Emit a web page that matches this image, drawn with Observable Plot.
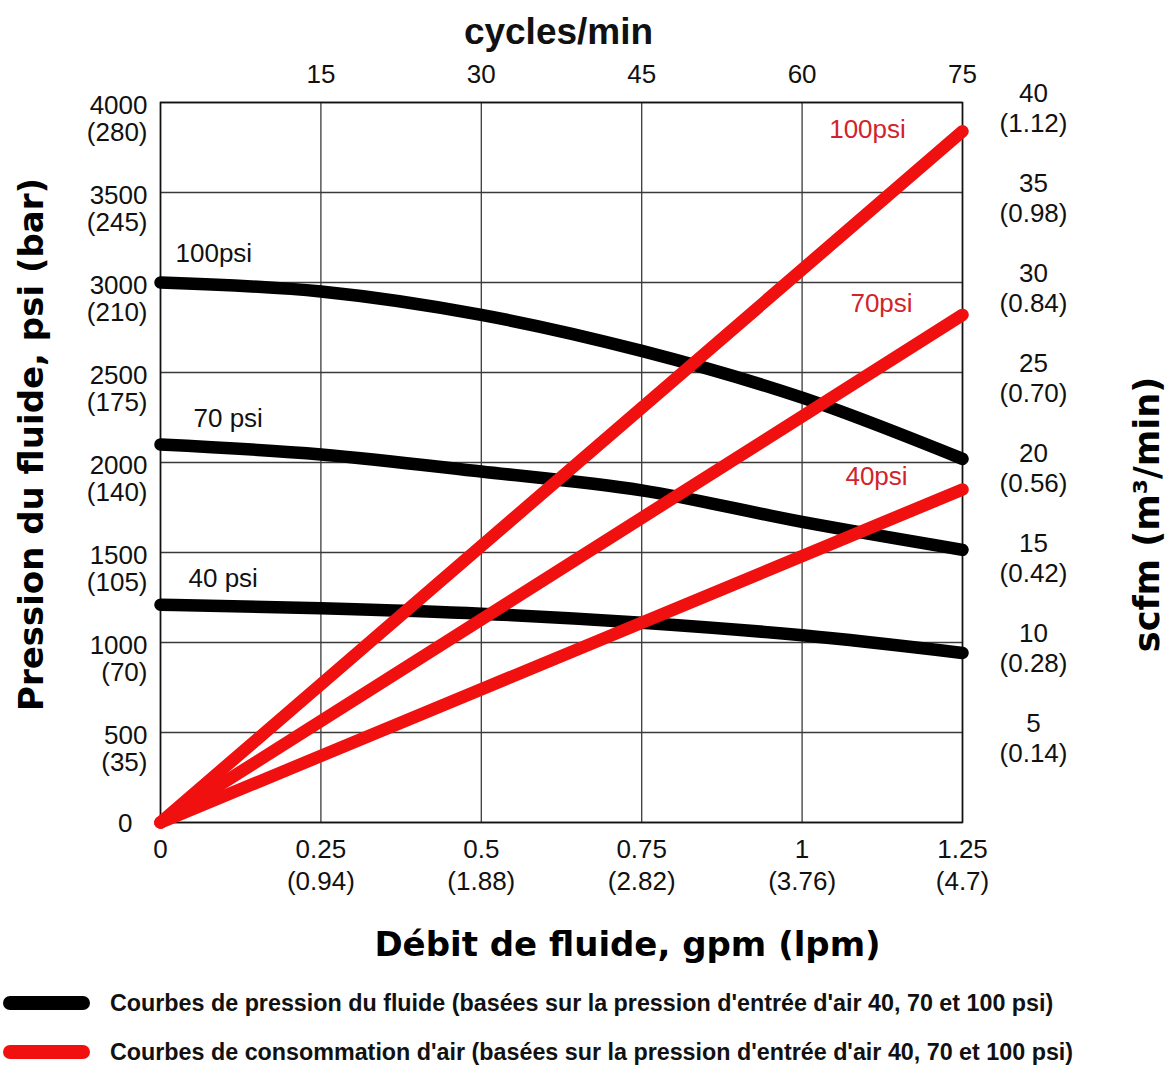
<!DOCTYPE html>
<html>
<head>
<meta charset="utf-8">
<script src="https://cdn.jsdelivr.net/npm/d3@7"></script>
<script src="https://cdn.jsdelivr.net/npm/@observablehq/plot@0.6"></script>
<style>
html, body { margin: 0; padding: 0; background: #fff; overflow: hidden; }
#wrap { position: relative; width: 1166px; height: 1068px; }
.leg { position: absolute; left: 0; height: 30px; display: flex; align-items: center;
  font-family: "Liberation Sans", Arial, sans-serif; font-weight: bold; font-size: 23.3px;
  color: #111; white-space: nowrap; }
.sw { display: inline-block; width: 87px; height: 14px; border-radius: 7px; margin-left: 3px; margin-right: 20px; }
</style>
</head>
<body>
<div id="wrap"><div id="chart"></div></div>
<script>
// ---- data ----
const gpm = [0, 0.25, 0.5, 0.75, 1, 1.25];
const lpmLabels = ["", "(0.94)", "(1.88)", "(2.82)", "(3.76)", "(4.7)"];
const cycleTicks = [15, 30, 45, 60, 75];
const psiTicks = [0, 500, 1000, 1500, 2000, 2500, 3000, 3500, 4000];
const barLabels = ["", "(35)", "(70)", "(105)", "(140)", "(175)", "(210)", "(245)", "(280)"];
const scfmTicks = [5, 10, 15, 20, 25, 30, 35, 40];
const m3Labels = ["(0.14)", "(0.28)", "(0.42)", "(0.56)", "(0.70)", "(0.84)", "(0.98)", "(1.12)"];

// fluid pressure curves (psi) at gpm values
const fluid100 = [3000, 2950, 2820, 2620, 2360, 2020];
const fluid70 = [2100, 2045, 1950, 1845, 1670, 1515];
const fluid40 = [1210, 1190, 1160, 1110, 1040, 942];

// air consumption (scfm)
const airGpm = [0, 1.25];
const air100 = [0, 38.4];
const air70 = [0, 28.2];
const air40 = [0, 18.5];

const fluidNames = ["100psi", "70 psi", "40 psi"];
const airNames = ["100psi", "70psi", "40psi"];
const legendLabels = [
  "Courbes de pression du fluide (basées sur la pression d'entrée d'air 40, 70 et 100 psi)",
  "Courbes de consommation d'air (basées sur la pression d'entrée d'air 40, 70 et 100 psi)"
];

// ---- derived ----
const SCFM_TO_PSI = 4000 / 40;       // right axis shares the same pixel range
const CYCLES_TO_GPM = 1.25 / 75;     // top axis: 75 cycles/min at 1.25 gpm

const fluidSeries = [fluid100, fluid70, fluid40];
const airSeries = [air100, air70, air40];
const fluidRows = fluidSeries.flatMap((s, k) => s.map((p, i) => ({gpm: gpm[i], psi: p, s: k})));
const airRows = airSeries.flatMap((s, k) => s.map((v, i) => ({gpm: airGpm[i], psi: v * SCFM_TO_PSI, s: k})));

const leftTicks = psiTicks.map((v, i) => ({v, label: barLabels[i] ? `${v}\n${barLabels[i]}` : `${v}`}));
const bottomTicks = gpm.map((v, i) => ({v, label: lpmLabels[i] ? `${v}\n${lpmLabels[i]}` : `${v}`}));
const rightTicks = scfmTicks.map((v, i) => ({v: v * SCFM_TO_PSI, label: `${v}\n${m3Labels[i]}`}));
const topTicks = cycleTicks.map(c => ({v: c * CYCLES_TO_GPM, label: `${c}`}));

const SANS = "Liberation Sans, Arial, Helvetica, sans-serif";
const BOLD = "DejaVu Sans, Verdana, sans-serif";
const TICK = 26;
const RED = "#f01010";
const RED_TXT = "#d2232a";

const fluidLabelOffsets = [[15, -29], [33, -26], [28, -26]];
const airLabelOffsets = [[-95, -2], [-81, -11], [-86, -13]];

const fluidLabelMarks = fluidSeries.map((s, k) => Plot.text([{gpm: gpm[0], psi: s[0]}], {
  x: "gpm", y: "psi", text: () => fluidNames[k], textAnchor: "start",
  dx: fluidLabelOffsets[k][0], dy: fluidLabelOffsets[k][1],
  fontSize: TICK, fontFamily: SANS, fill: "#111"
}));
const airLabelMarks = airSeries.map((s, k) => Plot.text([{gpm: airGpm[airGpm.length - 1], psi: s[s.length - 1] * SCFM_TO_PSI}], {
  x: "gpm", y: "psi", text: () => airNames[k], textAnchor: "middle",
  dx: airLabelOffsets[k][0], dy: airLabelOffsets[k][1],
  fontSize: TICK, fontFamily: SANS, fill: RED_TXT
}));

const chart = Plot.plot({
  width: 1166,
  height: 975,
  marginLeft: 160,
  marginRight: 204,
  marginTop: 102,
  marginBottom: 153,
  style: {background: "#fff", fontFamily: SANS, overflow: "visible"},
  x: {domain: [0, 1.25], axis: null},
  y: {domain: [0, 4000], axis: null},
  marks: [
    Plot.gridX(gpm, {stroke: "#3a3a3a", strokeOpacity: 1, strokeWidth: 1.3}),
    Plot.gridY(psiTicks, {stroke: "#3a3a3a", strokeOpacity: 1, strokeWidth: 1.3}),
    Plot.frame({stroke: "#111", strokeWidth: 1.6}),
    Plot.line(fluidRows, {x: "gpm", y: "psi", z: "s", stroke: "#000", strokeWidth: 12.5,
      curve: "monotone-x", strokeLinecap: "round", strokeLinejoin: "round"}),
    Plot.line(airRows, {x: "gpm", y: "psi", z: "s", stroke: RED, strokeWidth: 12.5,
      strokeLinecap: "round", strokeLinejoin: "round"}),
    // left axis labels
    Plot.text(leftTicks.filter(d => d.v > 0), {y: "v", text: "label", frameAnchor: "left",
      textAnchor: "end", dx: -13, dy: 16.3, lineHeight: 1.05, fontSize: TICK, fontFamily: SANS, fill: "#111"}),
    Plot.text(leftTicks.filter(d => d.v === 0), {y: "v", text: "label", frameAnchor: "left",
      textAnchor: "end", dx: -28, dy: 1, fontSize: TICK, fontFamily: SANS, fill: "#111"}),
    // right axis labels
    Plot.text(rightTicks, {y: "v", text: "label", frameAnchor: "right",
      textAnchor: "middle", dx: 71, dy: 4.8, lineHeight: 1.15, fontSize: TICK, fontFamily: SANS, fill: "#111"}),
    // bottom axis labels
    Plot.text(bottomTicks, {x: "v", text: "label", frameAnchor: "bottom", lineAnchor: "top",
      textAnchor: "middle", dy: 13, lineHeight: 1.23, fontSize: TICK, fontFamily: SANS, fill: "#111"}),
    // top axis labels
    Plot.text(topTicks, {x: "v", text: "label", frameAnchor: "top", lineAnchor: "bottom",
      textAnchor: "middle", dy: -20, fontSize: TICK, fontFamily: SANS, fill: "#111"}),
    // axis titles
    Plot.text(["cycles/min"], {frameAnchor: "top", lineAnchor: "bottom", textAnchor: "middle", dx: -3, dy: -59,
      fontSize: 37, fontWeight: "bold", fontFamily: SANS, fill: "#111"}),
    Plot.text(["Débit de fluide, gpm (lpm)"], {frameAnchor: "bottom", lineAnchor: "bottom", textAnchor: "middle", dx: 66, dy: 133,
      fontSize: 34, fontWeight: "bold", fontFamily: BOLD, fill: "#000"}),
    Plot.text(["Pression du fluide, psi (bar)"], {frameAnchor: "left", textAnchor: "middle", rotate: -90, dx: -128, dy: -18,
      fontSize: 34, fontWeight: "bold", fontFamily: BOLD, fill: "#000"}),
    Plot.text(["scfm (m³/min)"], {frameAnchor: "right", textAnchor: "middle", rotate: -90, dx: 185, dy: 52,
      fontSize: 35, fontWeight: "bold", fontFamily: BOLD, fill: "#000"}),
    ...fluidLabelMarks,
    ...airLabelMarks
  ]
});
document.getElementById("chart").appendChild(chart);

// legend (HTML, below the SVG)
const wrap = document.getElementById("wrap");
const legColors = ["#000", RED];
const legTops = [988, 1037];
legendLabels.forEach((t, i) => {
  const row = document.createElement("div");
  row.className = "leg";
  row.style.top = legTops[i] + "px";
  const sw = document.createElement("span");
  sw.className = "sw";
  sw.style.background = legColors[i];
  const tx = document.createElement("span");
  tx.textContent = t;
  row.appendChild(sw);
  row.appendChild(tx);
  wrap.appendChild(row);
});
</script>
</body>
</html>
